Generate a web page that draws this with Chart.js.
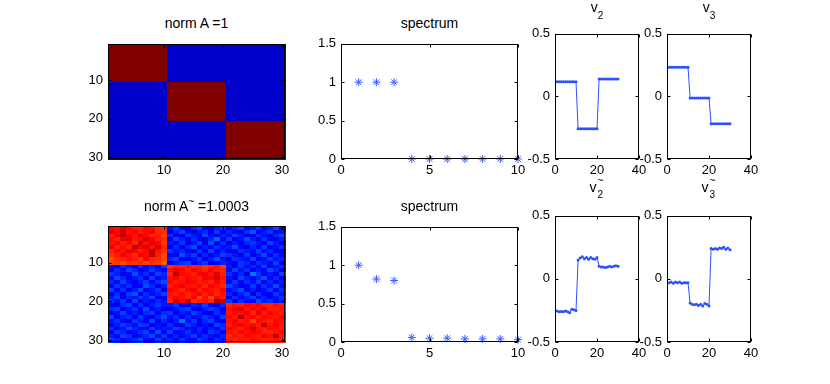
<!DOCTYPE html>
<html>
<head>
<meta charset="utf-8">
<script src="https://cdn.jsdelivr.net/npm/chart.js@4"></script>
<style>
  body { margin: 0; background: #fff; width: 830px; height: 384px; overflow: hidden; position: relative;
         font-family: "Liberation Sans", Arial, sans-serif; }
  canvas { position: absolute; }
  .ttl { position: absolute; font-size: 14px; line-height: 14px; color: #000; white-space: nowrap; transform: translateX(-50%); }
  .sub { position: relative; top: 7px; font-size: 10px; }
  .sup { position: relative; top: -6px; font-size: 10px; }
</style>
</head>
<body>
<script>
// ---- data ----
const specX = [1, 2, 3, 4, 5, 6, 7, 8, 9, 10];
const specTop = [1, 1, 1, 0, 0, 0, 0, 0, 0, 0];
const specBottom = [1.0, 0.82, 0.80, 0.06, 0.05, 0.05, 0.04, 0.04, 0.04, 0.03];

const idx = [1, 2, 3, 4, 5, 6, 7, 8, 9, 10, 11, 12, 13, 14, 15, 16, 17, 18, 19, 20,
             21, 22, 23, 24, 25, 26, 27, 28, 29, 30];
const v2 = [0.118, 0.118, 0.118, 0.118, 0.118, 0.118, 0.118, 0.118, 0.118, 0.118,
            -0.259, -0.259, -0.259, -0.259, -0.259, -0.259, -0.259, -0.259, -0.259, -0.259,
            0.138, 0.138, 0.138, 0.138, 0.138, 0.138, 0.138, 0.138, 0.138, 0.138];
const v3 = [0.233, 0.233, 0.233, 0.233, 0.233, 0.233, 0.233, 0.233, 0.233, 0.233,
            -0.013, -0.013, -0.013, -0.013, -0.013, -0.013, -0.013, -0.013, -0.013, -0.013,
            -0.218, -0.218, -0.218, -0.218, -0.218, -0.218, -0.218, -0.218, -0.218, -0.218];
const v2n = [-0.255, -0.26, -0.258, -0.26, -0.255, -0.26, -0.268, -0.24, -0.245, -0.25,
             0.15, 0.165, 0.175, 0.16, 0.17, 0.155, 0.17, 0.16, 0.155, 0.17,
             0.10, 0.095, 0.095, 0.09, 0.095, 0.10, 0.095, 0.10, 0.105, 0.10];
const v3n = [-0.03, -0.025, -0.035, -0.025, -0.03, -0.025, -0.035, -0.03, -0.03, -0.03,
             -0.19, -0.20, -0.205, -0.20, -0.21, -0.20, -0.215, -0.195, -0.20, -0.215,
             0.24, 0.235, 0.24, 0.235, 0.245, 0.24, 0.25, 0.235, 0.245, 0.23];

// block matrix A (1 = inside block)
const matA = [
  '111111111100000000000000000000', '111111111100000000000000000000', '111111111100000000000000000000',
  '111111111100000000000000000000', '111111111100000000000000000000', '111111111100000000000000000000',
  '111111111100000000000000000000', '111111111100000000000000000000', '111111111100000000000000000000',
  '111111111100000000000000000000', '000000000011111111110000000000', '000000000011111111110000000000',
  '000000000011111111110000000000', '000000000011111111110000000000', '000000000011111111110000000000',
  '000000000011111111110000000000', '000000000011111111110000000000', '000000000011111111110000000000',
  '000000000011111111110000000000', '000000000011111111110000000000', '000000000000000000001111111111',
  '000000000000000000001111111111', '000000000000000000001111111111', '000000000000000000001111111111',
  '000000000000000000001111111111', '000000000000000000001111111111', '000000000000000000001111111111',
  '000000000000000000001111111111', '000000000000000000001111111111', '000000000000000000001111111111'
];

// perturbed matrix A~ (colour level, 0..100)
const matB = [
  [88,86,90,87,85,84,88,86,83,82, 14,18,12,10,16,20,13,9,15,17, 12,16,19,11,14,18,10,15,20,13],
  [90,87,92,86,88,85,87,89,84,83, 11,15,19,13,8,14,17,12,18,10, 16,13,9,17,21,12,15,18,11,14],
  [85,89,95,88,86,90,87,84,85,81, 17,12,10,18,15,11,20,14,9,16, 13,19,15,10,12,17,14,9,16,20],
  [87,84,89,91,86,87,92,88,85,83, 10,19,15,12,17,13,8,16,22,12, 18,11,14,20,15,10,17,13,12,15],
  [86,88,85,87,84,93,86,90,87,82, 15,13,18,10,14,19,12,20,11,17, 9,15,12,16,18,14,11,19,15,10],
  [89,85,87,84,95,88,90,86,92,84, 12,17,11,16,20,9,15,13,17,14, 15,20,13,11,16,12,18,10,14,17],
  [84,87,86,90,88,85,87,95,86,83, 18,14,16,12,11,17,10,19,13,15, 12,10,17,15,13,19,14,16,11,12],
  [82,85,88,86,83,89,87,94,85,80, 13,10,20,15,18,12,16,11,14,19, 17,14,11,18,10,15,20,12,17,13],
  [80,83,84,86,85,82,88,84,83,81, 16,19,13,11,14,18,12,15,20,10, 11,17,15,13,19,11,13,18,14,16],
  [81,82,80,83,82,84,81,83,82,79, 11,14,17,19,12,15,18,10,13,16, 14,12,18,16,11,17,15,13,19,12],
  [14,12,17,15,10,18,13,16,11,19, 83,85,84,86,84,85,83,84,86,82, 15,11,18,13,16,12,19,10,14,17],
  [10,17,13,19,16,11,14,18,15,12, 86,89,87,85,88,86,84,87,85,84, 12,19,14,17,11,15,13,20,16,10],
  [18,15,11,13,20,14,17,12,19,16, 84,94,87,86,85,88,89,86,90,85, 17,13,16,10,24,18,12,15,11,19],
  [13,20,16,10,14,17,11,19,12,15, 86,88,85,87,86,84,88,87,93,86, 14,10,19,15,12,16,20,13,17,11],
  [16,11,19,14,12,15,18,13,17,20, 87,85,86,88,87,85,86,84,88,85, 11,18,13,17,14,19,10,16,12,15],
  [12,18,14,17,11,13,20,16,10,15, 85,87,88,86,85,87,84,88,86,84, 19,15,11,13,18,12,17,14,20,13],
  [19,13,17,12,15,20,11,14,18,10, 88,86,84,87,89,85,87,86,85,87, 13,16,20,12,15,10,14,18,12,17],
  [11,16,10,18,21,12,17,13,15,19, 86,85,87,84,86,88,85,87,84,86, 16,12,15,19,10,17,13,11,18,14],
  [15,19,12,16,13,18,14,20,11,13, 85,87,86,84,88,80,86,81,87,85, 10,17,13,15,19,11,16,12,14,18],
  [17,14,18,11,19,10,15,12,16,14, 84,92,87,94,83,85,86,84,95,93, 18,11,17,14,12,20,15,17,13,16],
  [13,10,16,19,12,17,11,15,18,14, 15,18,12,11,16,14,19,13,10,17, 84,86,85,87,86,88,85,84,86,85],
  [16,18,11,14,17,13,20,12,15,10, 12,14,17,19,13,11,15,18,16,12, 86,88,90,85,87,86,89,85,84,86],
  [10,14,19,13,15,11,16,18,12,17, 18,11,15,13,19,16,12,10,17,14, 85,87,86,89,84,91,85,88,86,85],
  [19,12,15,17,11,18,13,10,16,20, 13,17,12,16,11,14,18,15,12,19, 87,85,95,86,88,85,87,86,85,88],
  [14,17,13,10,18,15,12,19,11,16, 11,15,24,14,18,12,16,19,13,11, 86,88,85,86,80,87,86,84,87,86],
  [12,15,18,16,13,19,17,11,14,12, 17,13,10,18,15,11,14,12,19,16, 85,87,88,86,87,85,94,86,88,85],
  [17,11,14,20,16,12,10,18,13,15, 14,19,16,12,10,17,13,15,11,18, 88,86,84,87,93,86,85,87,86,84],
  [11,18,16,12,14,17,19,13,20,12, 19,12,14,17,13,15,11,18,16,13, 86,85,87,86,88,87,85,84,86,87],
  [15,13,19,17,11,14,16,20,12,18, 12,16,11,15,19,13,17,14,12,16, 84,86,85,87,86,85,88,86,94,85],
  [18,16,12,15,17,20,13,11,19,14, 16,10,18,13,12,19,15,11,17,14, 85,84,86,85,87,86,84,85,86,84]
];

const heatTicks = [10, 20, 30];

// ---- helpers ----
const FONT = { family: '"Liberation Sans", Arial, sans-serif', size: 13 };
const PAD_L = 44, PAD_T = 8, PAD_R = 12, PAD_B = 24;

function jet(t) {
  t = Math.min(1, Math.max(0, t));
  const c = v => Math.round(255 * Math.min(1, Math.max(0, 1.5 - Math.abs(v))));
  return 'rgb(' + c(4 * t - 3) + ',' + c(4 * t - 2) + ',' + c(4 * t - 1) + ')';
}

// black box with MATLAB-style inner ticks
const boxPlugin = {
  id: 'mbox',
  afterDraw(chart) {
    const { ctx, chartArea: a, scales } = chart;
    const l = Math.round(a.left) + 0.5, r = Math.round(a.right) - 0.5;
    const t = Math.round(a.top) + 0.5, b = Math.round(a.bottom) - 0.5;
    ctx.save();
    ctx.strokeStyle = '#000';
    ctx.lineWidth = 1;
    ctx.strokeRect(l, t, r - l, b - t);
    ctx.beginPath();
    scales.x.ticks.forEach(tk => {
      const px = Math.round(scales.x.getPixelForValue(tk.value)) + 0.5;
      ctx.moveTo(px, b); ctx.lineTo(px, b - 3);
      ctx.moveTo(px, t); ctx.lineTo(px, t + 3);
    });
    scales.y.ticks.forEach(tk => {
      const py = Math.round(scales.y.getPixelForValue(tk.value)) + 0.5;
      ctx.moveTo(l, py); ctx.lineTo(l + 3, py);
      ctx.moveTo(r, py); ctx.lineTo(r - 3, py);
    });
    ctx.stroke();
    ctx.restore();
  }
};

// image cells placed through the chart scales
const heatPlugin = {
  id: 'heat',
  beforeDatasetsDraw(chart, args, opts) {
    if (!opts.matrix) return;
    const { ctx, scales: { x, y } } = chart;
    ctx.save();
    opts.matrix.forEach((row, i) => {
      for (let j = 0; j < row.length; j++) {
        const v = Number(row[j]);
        const x0 = Math.round(x.getPixelForValue(j + 0.5)), x1 = Math.round(x.getPixelForValue(j + 1.5));
        const y0 = Math.round(y.getPixelForValue(i + 0.5)), y1 = Math.round(y.getPixelForValue(i + 1.5));
        ctx.fillStyle = jet((v - opts.cmin) / (opts.cmax - opts.cmin));
        ctx.fillRect(x0, Math.min(y0, y1), x1 - x0 + 1, Math.abs(y1 - y0) + 1);
      }
    });
    ctx.restore();
  }
};

const fmt = v => String(Math.round(v * 100) / 100);

function axis(extra) {
  const ticks = Object.assign({ font: FONT, color: '#000', padding: 5, maxRotation: 0, autoSkip: false, callback: fmt },
                              extra.ticks || {});
  return Object.assign({
    type: 'linear',
    grid: { display: false, drawTicks: false },
    border: { display: false }
  }, extra, { ticks: ticks });
}

function panel(box, datasets, xOpt, yOpt, heat) {
  const [L, T, R, B] = box;
  const cv = document.createElement('canvas');
  const w = R - L + PAD_L + PAD_R, h = B - T + PAD_T + PAD_B;
  cv.width = w; cv.height = h;
  cv.style.left = (L - PAD_L) + 'px';
  cv.style.top = (T - PAD_T) + 'px';
  cv.style.width = w + 'px'; cv.style.height = h + 'px';
  document.body.appendChild(cv);
  const x = axis(xOpt), y = axis(yOpt);
  x.ticks.padding = 4;
  x.afterFit = s => { s.height = PAD_B; };
  y.afterFit = s => { s.width = PAD_L; };
  new Chart(cv, {
    type: 'scatter',
    data: { datasets: datasets },
    options: {
      responsive: false,
      animation: false,
      layout: { padding: { top: PAD_T, right: PAD_R, left: 0, bottom: 0 } },
      plugins: { legend: { display: false }, tooltip: { enabled: false }, heat: heat || {} },
      scales: { x: x, y: y }
    },
    plugins: [heatPlugin, boxPlugin]
  });
}

function title(cx, baseline, html) {
  const d = document.createElement('div');
  d.className = 'ttl';
  d.style.left = cx + 'px';
  d.style.top = (baseline - 11.5) + 'px';
  d.innerHTML = html;
  document.body.appendChild(d);
}

function fixedTicks(list) {
  return s => { s.ticks = list.map(v => ({ value: v })); };
}

function starSet(vals) {
  return {
    data: specX.map((x, i) => ({ x: x, y: vals[i] })),
    pointStyle: 'star', pointRadius: 4, borderWidth: 1,
    borderColor: '#3a5bff', backgroundColor: '#3a5bff', clip: false, showLine: false
  };
}

function lineSet(vals) {
  return {
    data: idx.map((x, i) => ({ x: x, y: vals[i] })),
    showLine: true, borderColor: '#2d50ff', borderWidth: 1,
    pointStyle: 'circle', pointRadius: 1.5, pointBorderWidth: 0,
    pointBackgroundColor: '#2d50ff', clip: false
  };
}

function tilded(sub) {
  return 'v<span style="display:inline-block;position:relative;width:8px;height:10px">' +
    '<span style="position:absolute;left:1px;top:-8px;font-size:10px">~</span>' +
    '<span style="position:absolute;left:1px;top:6px;font-size:10px">' + sub + '</span></span>';
}

const heatX = { min: 0.5, max: 30.5, afterBuildTicks: fixedTicks(heatTicks) };
const heatY = { min: 0.5, max: 30.5, reverse: true, afterBuildTicks: fixedTicks(heatTicks) };
const specXAxis = { min: 0, max: 10, ticks: { stepSize: 5 } };
const specYAxis = { min: 0, max: 1.5, ticks: { stepSize: 0.5 } };
const vX = { min: 0, max: 40, ticks: { stepSize: 20 } };
const vY = { min: -0.5, max: 0.5, ticks: { stepSize: 0.5 } };

// ---- top row ----
panel([108, 39, 285, 159], [{ data: [] }], heatX, heatY, { matrix: matA, cmin: -0.08, cmax: 1 });
panel([341, 39, 518, 159], [starSet(specTop)], specXAxis, specYAxis);
panel([555, 29, 639, 159], [lineSet(v2)], vX, vY);
panel([667, 29, 751, 159], [lineSet(v3)], vX, vY);

// ---- bottom row ----
panel([108, 221, 285, 342], [{ data: [] }], heatX, heatY, { matrix: matB, cmin: 0, cmax: 100 });
panel([341, 222, 518, 342], [starSet(specBottom)], specXAxis, specYAxis);
panel([555, 211, 639, 342], [lineSet(v2n)], vX, vY);
panel([667, 211, 751, 342], [lineSet(v3n)], vX, vY);

// ---- titles ----
title(196.5, 27, 'norm A =1');
title(429.5, 27, 'spectrum');
title(597, 11, 'v<span class="sub">2</span>');
title(709, 11, 'v<span class="sub">3</span>');
title(196.5, 210, 'norm A<span class="sup">~</span> =1.0003');
title(429.5, 210, 'spectrum');
title(597, 191, tilded('2'));
title(709, 191, tilded('3'));
</script>
</body>
</html>
